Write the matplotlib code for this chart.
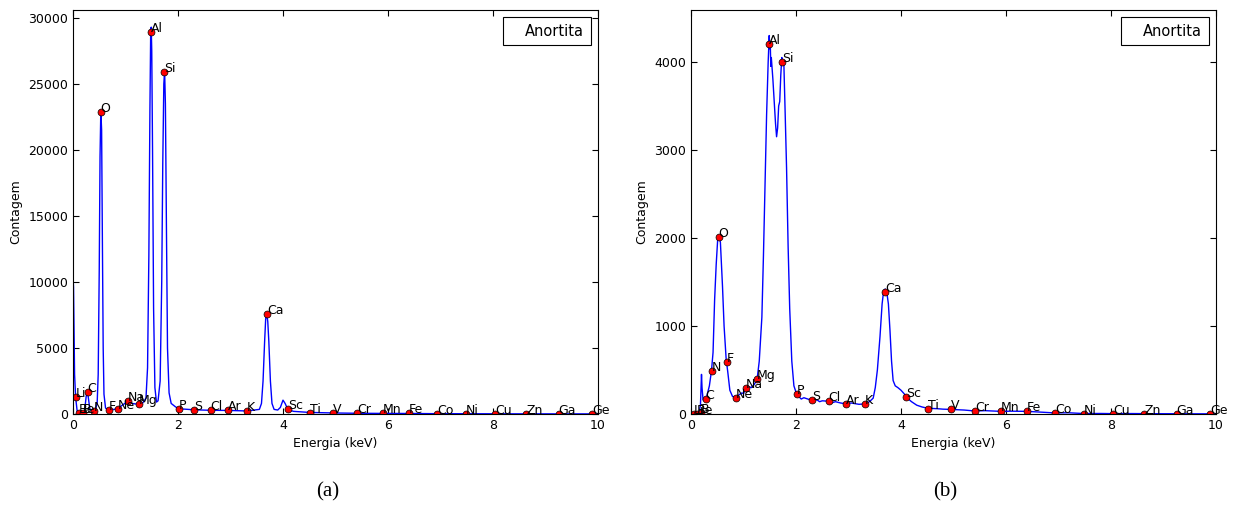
import numpy as np
import matplotlib
matplotlib.use("Agg")
import matplotlib.pyplot as plt
from matplotlib.lines import Line2D

# element lines (keV)
elements = ["Li", "Be", "B", "C", "N", "O", "F", "Ne", "Na", "Mg", "Al", "Si", "P", "S", "Cl",
            "Ar", "K", "Ca", "Sc", "Ti", "V", "Cr", "Mn", "Fe", "Co", "Ni", "Cu", "Zn", "Ga", "Ge"]
energies = [0.054, 0.108, 0.183, 0.277, 0.392, 0.525, 0.677, 0.849, 1.041, 1.254, 1.487, 1.740,
            2.013, 2.307, 2.622, 2.957, 3.313, 3.691, 4.090, 4.510, 4.952, 5.414, 5.898, 6.403,
            6.930, 7.477, 8.047, 8.638, 9.251, 9.885]

# (a) counts at each element line
counts_a = [1270, 50, 80, 1700, 200, 22900, 300, 400, 950, 730, 28950, 25900, 400, 320, 280,
            270, 230, 7580, 390, 110, 80, 55, 45, 60, 20, 15, 12, 10, 8, 8]
# (b) counts at each element line
counts_b = [5, 5, 10, 165, 490, 2015, 595, 185, 290, 400, 4200, 4000, 225, 155, 145,
            115, 115, 1390, 190, 60, 52, 34, 32, 32, 12, 5, 5, 4, 3, 2]

# spectrum (a)
spec_a_e = [0.00, 0.01, 0.03, 0.05, 0.08, 0.11, 0.18, 0.22, 0.25, 0.27, 0.29, 0.32, 0.37, 0.42,
            0.46, 0.48, 0.50, 0.515, 0.53, 0.545, 0.56, 0.575, 0.59, 0.62, 0.67, 0.75, 0.85,
            0.95, 1.04, 1.12, 1.25, 1.33, 1.39, 1.42, 1.445, 1.465, 1.48, 1.49, 1.50, 1.515,
            1.535, 1.56, 1.59, 1.62, 1.66, 1.69, 1.71, 1.73, 1.745, 1.76, 1.78, 1.80, 1.83,
            1.87, 1.95, 2.01, 2.30, 2.62, 2.96, 3.31, 3.45, 3.55, 3.59, 3.62, 3.65, 3.67, 3.69,
            3.71, 3.73, 3.76, 3.79, 3.83, 3.90, 3.95, 4.00, 4.04, 4.08, 4.12, 4.20, 4.50,
            4.95, 5.40, 5.90, 6.40, 6.90, 7.50, 8.05, 8.60, 9.25, 9.90, 10.0]
spec_a_c = [10500, 9600, 3000, 1250, 200, 60, 80, 200, 1300, 1700, 1300, 400, 200, 250,
            800, 3000, 11000, 19500, 23000, 21500, 13000, 5000, 1500, 450, 300, 330, 400,
            700, 950, 800, 730, 850, 1200, 3500, 12000, 23000, 29000, 29300, 27500, 20000,
            8000, 2000, 900, 1000, 2500, 10000, 19000, 25000, 26000, 23500, 14000, 5000, 1600,
            800, 550, 400, 320, 280, 270, 230, 300, 350, 800, 2500, 5500, 7200, 7600,
            7000, 5500, 2500, 800, 350, 300, 500, 1050, 800, 450, 300, 200, 120,
            80, 55, 45, 40, 25, 20, 15, 12, 10, 8, 8]

# spectrum (b)
spec_b_e = [0.00, 0.15, 0.18, 0.20, 0.21, 0.23, 0.27, 0.30, 0.35, 0.39, 0.42, 0.45, 0.48, 0.51,
            0.53, 0.56, 0.58, 0.60, 0.63, 0.67, 0.70, 0.74, 0.79, 0.85, 0.92, 0.97, 1.00, 1.04,
            1.10, 1.15, 1.21, 1.26, 1.30, 1.35, 1.38, 1.41, 1.44, 1.47, 1.49, 1.50, 1.51, 1.52,
            1.53, 1.56, 1.58, 1.61, 1.63, 1.65, 1.67, 1.69, 1.71, 1.73, 1.75, 1.77, 1.79, 1.82,
            1.85, 1.88, 1.92, 1.96, 2.01, 2.05, 2.10, 2.15, 2.20, 2.25, 2.30, 2.40, 2.45, 2.50,
            2.62, 2.70, 2.75, 2.85, 2.96, 3.05, 3.10, 3.20, 3.31, 3.40, 3.47, 3.51, 3.55, 3.60,
            3.64, 3.67, 3.70, 3.73, 3.76, 3.79, 3.82, 3.85, 3.89, 3.94, 4.00, 4.06, 4.12, 4.20,
            4.30, 4.40, 4.51, 4.70, 4.80, 4.95, 5.20, 5.41, 5.60, 5.90, 6.10, 6.40, 6.70, 6.93,
            7.20, 7.48, 7.80, 8.05, 8.40, 8.64, 9.00, 9.25, 9.60, 9.89, 10.0]
spec_b_c = [0, 10, 100, 450, 300, 160, 160, 200, 320, 490, 700, 1300, 1700, 2000,
            2030, 1950, 1700, 1450, 1000, 620, 480, 270, 200, 185, 220, 240, 230, 290,
            310, 300, 340, 400, 600, 1100, 1800, 2600, 3400, 4000, 4300, 4150, 4200, 3950,
            4050, 3800, 3600, 3300, 3150, 3250, 3500, 3550, 3850, 4050, 4000, 3950, 3500, 2800,
            1900, 1200, 600, 320, 230, 200, 170, 185, 175, 165, 155, 160, 140, 150,
            145, 130, 140, 125, 115, 125, 120, 110, 115, 140, 180, 300, 500, 880,
            1250, 1400, 1420, 1380, 1250, 950, 600, 380, 320, 300, 270, 230, 180, 140,
            100, 80, 65, 60, 55, 52, 45, 34, 38, 30, 32, 30, 20, 12,
            14, 5, 6, 4, 5, 4, 3, 3, 2, 2, 2]

plt.rcParams['font.family'] = ['DejaVu Sans']
plt.rcParams['xtick.direction'] = 'in'
plt.rcParams['ytick.direction'] = 'in'
plt.rcParams['xtick.top'] = True
plt.rcParams['ytick.right'] = True


def panel(ax, e, c, pts, ymax):
    ax.plot(e, c, color='b', lw=1.0)
    ax.plot(energies, pts, 'o', color='red', mec='black', mew=0.5, ms=5)
    for name, x, y in zip(elements, energies, pts):
        ax.annotate(name, (x, y), fontsize=9)
    ax.set_xlim(0, 10)
    ax.set_ylim(0, ymax)
    ax.set_xlabel("Energia (keV)", fontsize=9)
    ax.set_ylabel("Contagem", fontsize=9)
    ax.tick_params(labelsize=9, length=4, width=0.8)
    h = Line2D([], [], linestyle='none')
    leg = ax.legend([h], ["Anortita"], loc='upper right', fontsize=10.5, fancybox=False,
                    framealpha=1, edgecolor='black', borderaxespad=0.5,
                    handlelength=0.3, handletextpad=0.8, borderpad=0.45)
    leg.get_frame().set_linewidth(0.8)


fig = plt.figure(figsize=(12.34, 5.07), dpi=100)
ax1 = fig.add_axes([73 / 1234, 1 - 414 / 507, 525 / 1234, 404 / 507])
ax2 = fig.add_axes([691 / 1234, 1 - 414 / 507, 525 / 1234, 404 / 507])
panel(ax1, spec_a_e, spec_a_c, counts_a, 30600)
panel(ax2, spec_b_e, spec_b_c, counts_b, 4590)
ax1.set_yticks([0, 5000, 10000, 15000, 20000, 25000, 30000])
ax2.set_yticks([0, 1000, 2000, 3000, 4000])

fig.text(328 / 1234, 1 - 492 / 507, "(a)", family='Liberation Serif', fontsize=15,
         ha='center', va='center')
fig.text(945 / 1234, 1 - 492 / 507, "(b)", family='Liberation Serif', fontsize=15,
         ha='center', va='center')

fig.savefig("out.png", dpi=100)
